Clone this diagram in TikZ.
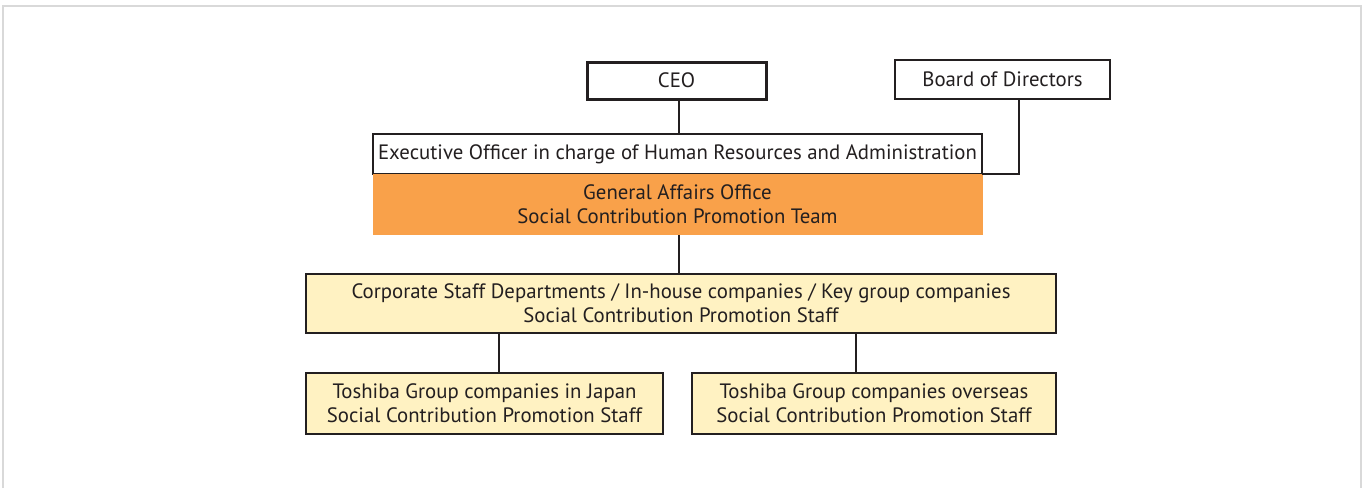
\documentclass[tikz,border=0pt]{standalone}
\usepackage{fontspec}
\setmainfont{PT Sans}
\usetikzlibrary{positioning}
\definecolor{ChartInk}{HTML}{231F20}
\definecolor{ChartFrame}{gray}{0.85}
\definecolor{ChartOrange}{HTML}{F9A14A}
\definecolor{ChartCream}{HTML}{FFF2C2}
\tikzset{
    chart/diagram/.style={
        font=\fontsize{20.8}{24}\selectfont,
        text=ChartInk,
        line width=1.3pt,
        every node/.style={inner sep=0pt, outer sep=0pt, align=center}
    },
    chart/box/.style={draw=ChartInk, fill=white, line width=1.3pt},
    chart/head/.style={chart/box, line width=3pt},
    chart/team/.style={fill=ChartOrange, draw=none},
    chart/staff/.style={chart/box, fill=ChartCream},
    chart/link/.style={draw=ChartInk, line width=1.3pt}
}
\begin{document}
\begin{tikzpicture}[chart/diagram, x=1pt, y=-1pt]
    \useasboundingbox (0,0) rectangle (1365,488);
    \draw[ChartFrame, line width=2pt] (3,488) -- (3,6) -- (1361,6) -- (1361,488);
    % top level
    \node[chart/head, minimum width=179pt, minimum height=37pt] (ceo) at (676.5,80.5) {CEO};
    \node[chart/box, minimum width=215pt, minimum height=39pt] (bod) at (1002.5,79.5) {Board of Directors};
    \node[chart/box, minimum width=609pt, minimum height=40pt] (exec) at (677.5,154) {Executive Officer in charge of Human Resources and Administration};
    \node[chart/team, minimum width=610pt, minimum height=61pt, anchor=north] (team) at (exec.south) {General Affairs Office\\Social Contribution Promotion Team};
    % staff levels
    \node[chart/staff, minimum width=750pt, minimum height=59pt] (corp) at (681,303.5) {Corporate Staff Departments / In-house companies / Key group companies\\Social Contribution Promotion Staff};
    \node[chart/staff, minimum width=357pt, minimum height=61pt] (jp) at (484.5,403.5) {Toshiba Group companies in Japan\\Social Contribution Promotion Staff};
    \node[chart/staff, minimum width=364pt, minimum height=61pt] (os) at (874,403.5) {Toshiba Group companies overseas\\Social Contribution Promotion Staff};
    \coordinate (bodline) at (1019,0);
    \coordinate (jpline) at (499,0);
    \coordinate (osline) at (856,0);
    % connectors
    \draw[chart/link] (ceo.south -| 679,0) -- (exec.north -| 679,0);
    \draw[chart/link] (bod.south -| bodline) |- (exec.south east);
    \draw[chart/link] (team.south -| 679,0) -- (corp.north -| 679,0);
    \draw[chart/link] (corp.south -| jpline) -- (jp.north -| jpline);
    \draw[chart/link] (corp.south -| osline) -- (os.north -| osline);
\end{tikzpicture}
\end{document}
